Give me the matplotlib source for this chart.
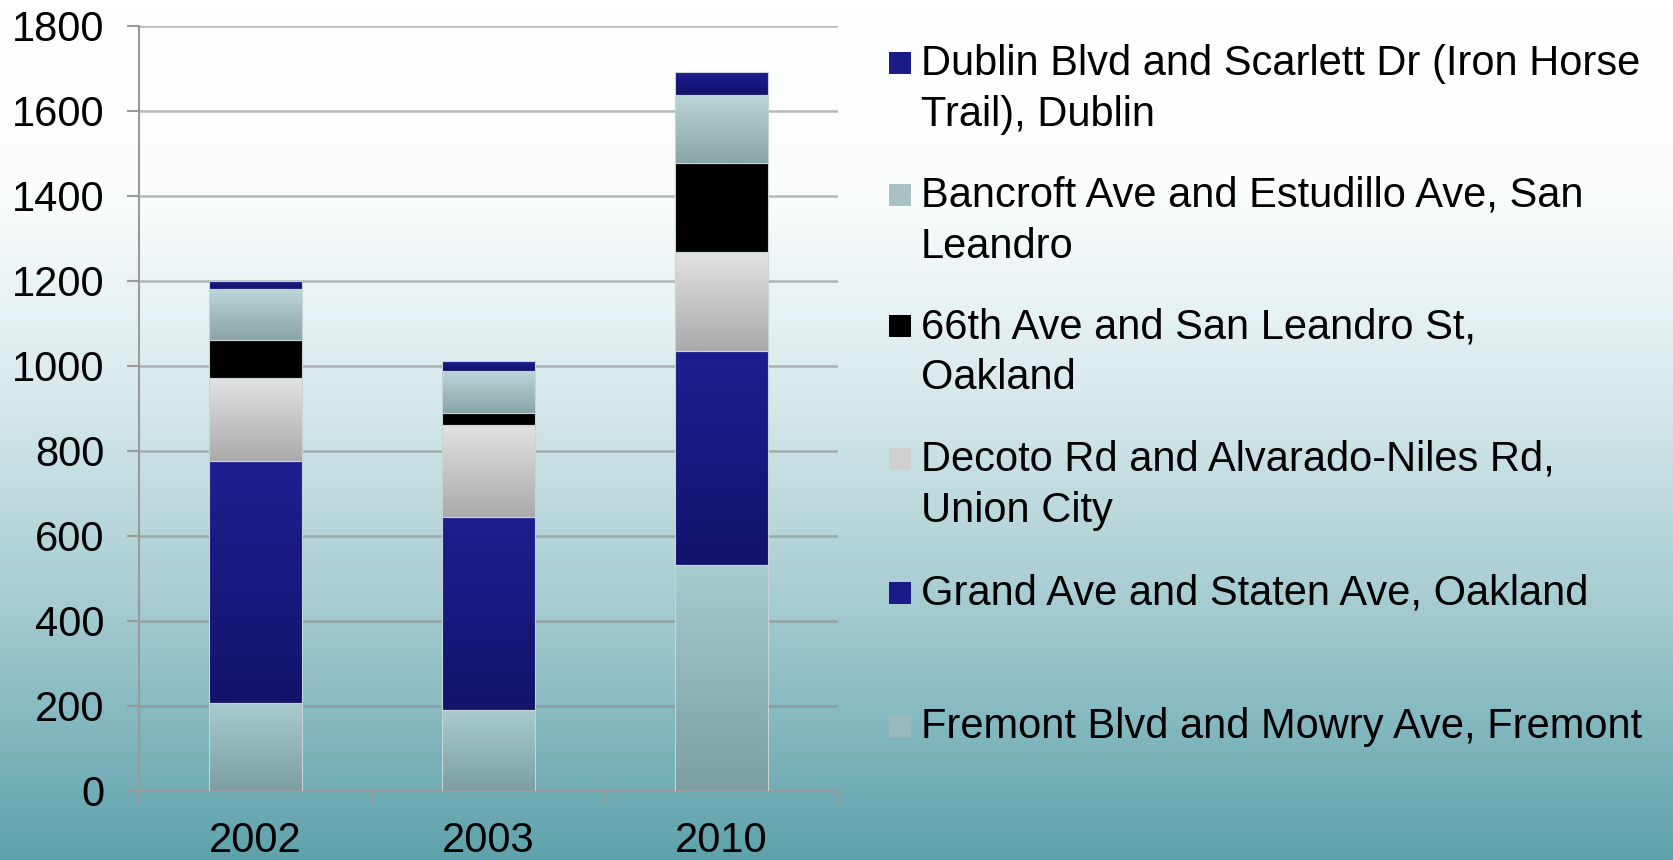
import numpy as np
import matplotlib
matplotlib.use("Agg")
import matplotlib.pyplot as plt
from matplotlib.colors import LinearSegmentedColormap
from matplotlib.patches import Rectangle

plt.rcParams['font.family'] = ['Liberation Sans', 'DejaVu Sans']

## categories and stacked series (bottom to top)
years = ['2002', '2003', '2010']
fremont = [205, 190, 530]
grand = [570, 453, 504]
decoto = [195, 218, 234]
sixtysixth = [90, 28, 208]
bancroft = [120, 98, 161]
dublin = [20, 23, 55]

series = [fremont, grand, decoto, sixtysixth, bancroft, dublin]
# (top colour, bottom colour) for each segment gradient
shades = [('#a9cbce', '#7c9fa2'),
          ('#1e1e90', '#13136c'),
          ('#e2e2e2', '#aaaaaa'),
          ('#000000', '#000000'),
          ('#bcd5d7', '#8aa5a7'),
          ('#1e1e92', '#12126a')]

## legend text, top entry first, one list item per line
legend_lines = [
    ['Dublin Blvd and Scarlett Dr (Iron Horse', 'Trail), Dublin'],
    ['Bancroft Ave and Estudillo Ave, San', 'Leandro'],
    ['66th Ave and San Leandro St,', 'Oakland'],
    ['Decoto Rd and Alvarado-Niles Rd,', 'Union City'],
    ['Grand Ave and Staten Ave, Oakland'],
    ['Fremont Blvd and Mowry Ave, Fremont'],
]
legend_colors = ['#1a1a88', '#a8c2c4', '#000000', '#d0d0d0', '#1a1a88', '#9ab9bc']

W, H = 1673, 860
fig = plt.figure(figsize=(W/100, H/100), dpi=100)

# background gradient, white at top going to teal at bottom
bg = fig.add_axes([0, 0, 1, 1], zorder=-10)
bgcmap = LinearSegmentedColormap.from_list('bg', [(0.0, '#ffffff'), (0.22, '#fbfdfd'),
                                                 (0.45, '#d9eaec'), (0.7, '#a6ccd1'),
                                                 (1.0, '#5fa2ac')])
bg.imshow(np.linspace(0, 1, 256).reshape(-1, 1), cmap=bgcmap, aspect='auto',
          extent=(0, 1, 0, 1), origin='upper')
bg.set_axis_off()

ax = fig.add_axes([139/W, 1-790.6/H, (837.6-139)/W, (790.6-25.6)/H])
ax.set_facecolor('none')

x = np.arange(len(years))
bottom = np.zeros(len(years))
for vals, (top, bot) in zip(series, shades):
    bars = ax.bar(x, vals, width=0.4, bottom=bottom, facecolor='none',
                  edgecolor='#c9d3d4', linewidth=0.8, zorder=3)
    cmap = LinearSegmentedColormap.from_list('g', [bot, top])
    for r in bars:
        x0, y0 = r.get_xy()
        im = ax.imshow(np.linspace(0, 1, 64).reshape(-1, 1), cmap=cmap, origin='lower',
                       aspect='auto', extent=(x0, x0+r.get_width(), y0, y0+r.get_height()),
                       zorder=2.5)
        im.set_clip_path(r)
    bottom += np.array(vals)

ax.set_xlim(-0.5, 2.5)
ax.set_ylim(0, 1800)
ax.set_yticks(np.arange(0, 1801, 200))
ax.set_xticks(x)
ax.set_xticklabels(years)
ax.set_xticks([-0.5, 0.5, 1.5, 2.5], minor=True)
ax.yaxis.grid(True, color='#8a8a8a', alpha=0.6, linewidth=1.8, zorder=1)
ax.set_axisbelow(True)
for s in ['top', 'right']:
    ax.spines[s].set_visible(False)
for s in ['left', 'bottom']:
    ax.spines[s].set_color('#9a9a9a')
    ax.spines[s].set_linewidth(1.5)
ax.tick_params(axis='y', length=9, width=1.5, color='#9a9a9a', pad=16, labelsize=30)
ax.tick_params(axis='x', which='major', length=0, pad=22, labelsize=30)
ax.tick_params(axis='x', which='minor', length=9, width=1.5, color='#9a9a9a')

# legend, drawn by hand so the swatch sits on the first line
baselines = [75, 207, 338, 471, 605, 738]
for lines, col, yb in zip(legend_lines, legend_colors, baselines):
    fig.patches.append(Rectangle((889/W, 1-(yb-1)/H), 22/W, 22/H, facecolor=col,
                                 edgecolor='none', transform=fig.transFigure))
    for i, t in enumerate(lines):
        fig.text(921/W, 1-(yb+51*i)/H, t, fontsize=30, va='baseline', ha='left')

fig.savefig('out.png', dpi=100)
